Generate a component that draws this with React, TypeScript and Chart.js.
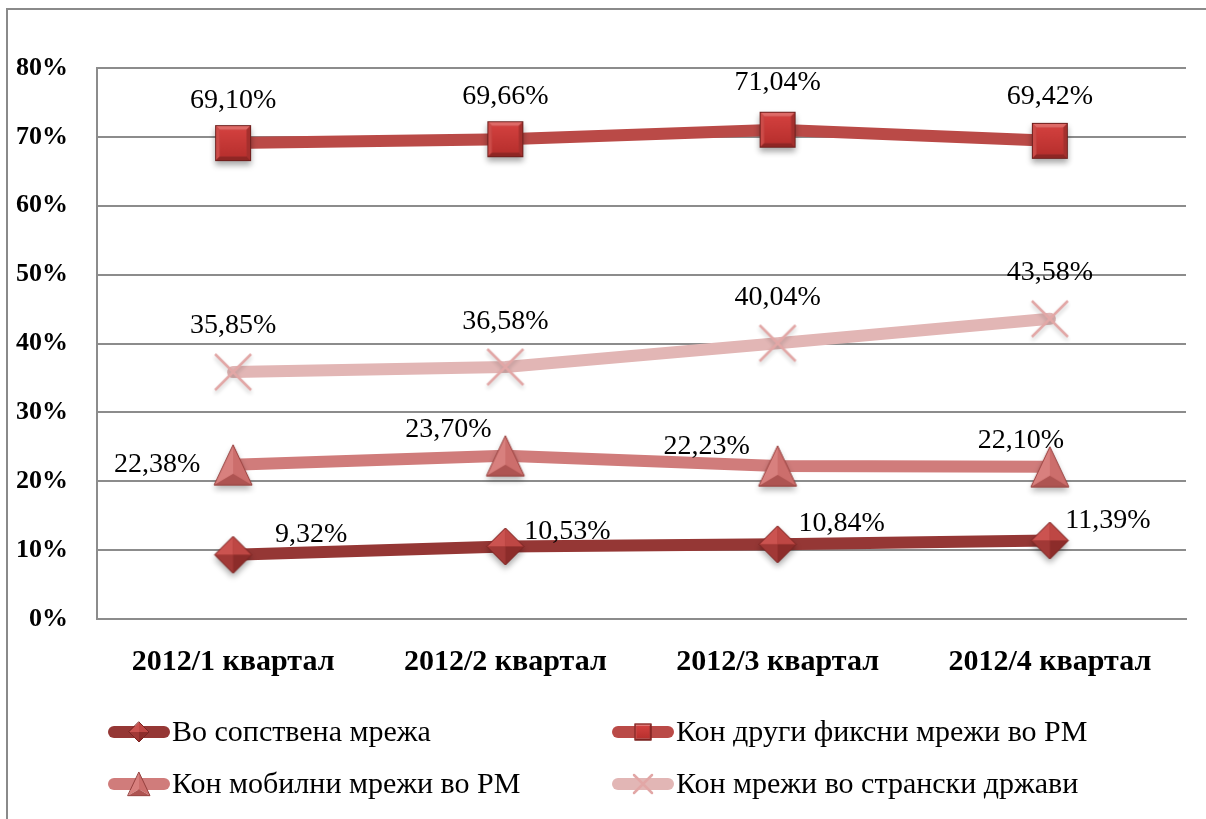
import React, { useEffect, useRef } from 'react';
import { Chart, registerables } from 'chart.js';
Chart.register(...registerables);

const categories = ['2012/1 квартал', '2012/2 квартал', '2012/3 квартал', '2012/4 квартал'];
const seriesNames = [
  'Во сопствена мрежа',
  'Кон други фиксни мрежи во РМ',
  'Кон мобилни мрежи во РМ',
  'Кон мрежи во странски држави',
];
const ownNetwork = [9.32, 10.53, 10.84, 11.39];
const otherFixed = [69.1, 69.66, 71.04, 69.42];
const mobileNet = [22.38, 23.7, 22.23, 22.1];
const foreignNet = [35.85, 36.58, 40.04, 43.58];
const yMin = 0;
const yMax = 80;
const yStep = 10;

const FONT = '"Liberation Serif", "DejaVu Serif", serif';

type Kind = 'diamond' | 'square' | 'triangle' | 'cross';

function drawMarker(ctx: CanvasRenderingContext2D, kind: Kind, cx: number, cy: number, s: number, shadow = true) {
  ctx.save();
  if (kind === 'square') {
    const h = s / 2;
    if (shadow) {
      ctx.save();
      ctx.shadowColor = 'rgba(0,0,0,0.35)';
      ctx.shadowBlur = 6;
      ctx.shadowOffsetY = 4;
      ctx.fillStyle = '#B9393A';
      ctx.fillRect(cx - h, cy - h, s, s);
      ctx.restore();
    }
    const b = s * 0.13;
    const poly = (pts: number[][], c: string) => {
      ctx.beginPath();
      ctx.moveTo(pts[0][0], pts[0][1]);
      for (let i = 1; i < pts.length; i++) ctx.lineTo(pts[i][0], pts[i][1]);
      ctx.closePath();
      ctx.fillStyle = c;
      ctx.fill();
    };
    const L = cx - h, R = cx + h, T = cy - h, B = cy + h;
    poly([[L, T], [R, T], [R - b, T + b], [L + b, T + b]], '#DE6A67');
    poly([[L, T], [L + b, T + b], [L + b, B - b], [L, B]], '#CC4B48');
    poly([[R, T], [R, B], [R - b, B - b], [R - b, T + b]], '#A52F2D');
    poly([[L, B], [L + b, B - b], [R - b, B - b], [R, B]], '#8E2624');
    const g = ctx.createLinearGradient(cx, T + b, cx, B - b);
    g.addColorStop(0, '#D2403E');
    g.addColorStop(1, '#B8302E');
    ctx.fillStyle = g;
    ctx.fillRect(L + b, T + b, s - 2 * b, s - 2 * b);
    ctx.strokeStyle = '#6E1F1D';
    ctx.lineWidth = 1;
    ctx.strokeRect(L + 0.5, T + 0.5, s - 1, s - 1);
  } else if (kind === 'diamond') {
    const h = s / 2;
    if (shadow) {
      ctx.save();
      ctx.shadowColor = 'rgba(0,0,0,0.35)';
      ctx.shadowBlur = 6;
      ctx.shadowOffsetY = 4;
      ctx.beginPath();
      ctx.moveTo(cx, cy - h); ctx.lineTo(cx + h, cy); ctx.lineTo(cx, cy + h); ctx.lineTo(cx - h, cy); ctx.closePath();
      ctx.fillStyle = '#A83A37';
      ctx.fill();
      ctx.restore();
    }
    const tri = (a: number[], b: number[], c: string) => {
      ctx.beginPath();
      ctx.moveTo(cx, cy); ctx.lineTo(a[0], a[1]); ctx.lineTo(b[0], b[1]); ctx.closePath();
      ctx.fillStyle = c; ctx.fill();
    };
    const top = [cx, cy - h], right = [cx + h, cy], bot = [cx, cy + h], left = [cx - h, cy];
    tri(left, top, '#CB5350');
    tri(top, right, '#BE4744');
    tri(left, bot, '#A13836');
    tri(bot, right, '#8C2C2A');
    ctx.beginPath();
    ctx.moveTo(cx, cy - h); ctx.lineTo(cx + h, cy); ctx.lineTo(cx, cy + h); ctx.lineTo(cx - h, cy); ctx.closePath();
    ctx.strokeStyle = '#7A2422';
    ctx.lineWidth = 1;
    ctx.stroke();
  } else if (kind === 'triangle') {
    const hw = s / 2;
    const hh = s * 0.53;
    const top = [cx, cy - hh], bl = [cx - hw, cy + hh], br = [cx + hw, cy + hh];
    const inner = [cx, cy + hh * 0.45];
    if (shadow) {
      ctx.save();
      ctx.shadowColor = 'rgba(0,0,0,0.3)';
      ctx.shadowBlur = 6;
      ctx.shadowOffsetY = 4;
      ctx.beginPath();
      ctx.moveTo(top[0], top[1]); ctx.lineTo(br[0], br[1]); ctx.lineTo(bl[0], bl[1]); ctx.closePath();
      ctx.fillStyle = '#C96866';
      ctx.fill();
      ctx.restore();
    }
    const tri = (a: number[], b: number[], c: string) => {
      ctx.beginPath();
      ctx.moveTo(inner[0], inner[1]); ctx.lineTo(a[0], a[1]); ctx.lineTo(b[0], b[1]); ctx.closePath();
      ctx.fillStyle = c; ctx.fill();
    };
    tri(top, bl, '#D8807E');
    tri(top, br, '#CC6E6C');
    tri(bl, br, '#AE5452');
    ctx.beginPath();
    ctx.moveTo(top[0], top[1]); ctx.lineTo(br[0], br[1]); ctx.lineTo(bl[0], bl[1]); ctx.closePath();
    ctx.strokeStyle = '#95403E';
    ctx.lineWidth = 1;
    ctx.stroke();
  } else {
    const h = s / 2;
    ctx.save();
    if (shadow) {
      ctx.shadowColor = 'rgba(0,0,0,0.2)';
      ctx.shadowBlur = 4;
      ctx.shadowOffsetY = 3;
    }
    ctx.strokeStyle = '#E2A7A6';
    ctx.lineWidth = 2.5;
    ctx.beginPath();
    ctx.moveTo(cx - h, cy - h); ctx.lineTo(cx + h, cy + h);
    ctx.moveTo(cx + h, cy - h); ctx.lineTo(cx - h, cy + h);
    ctx.stroke();
    ctx.restore();
  }
  ctx.restore();
}

function makeMarker(kind: Kind, s: number): HTMLCanvasElement {
  const pad = 14;
  const c = document.createElement('canvas');
  c.width = Math.ceil(s + pad * 2);
  c.height = Math.ceil(s + pad * 2);
  const ctx = c.getContext('2d')!;
  drawMarker(ctx, kind, c.width / 2, c.height / 2, s);
  return c;
}

const kinds: Kind[] = ['diamond', 'square', 'triangle', 'cross'];
const lineColors = ['#953735', '#BA4A47', '#D07C7B', '#E2B6B5'];
const markerSizes = [37, 36, 38, 36];
const legendMarkerSizes = [20, 17, 22, 18];

// label offsets (dx, dy) relative to each point, in px
const labelOffsets: number[][][] = [
  [[78, -20], [62, -15], [64, -21], [58, -20]],
  [[0, -42], [0, -43], [0, -47], [0, -44]],
  [[-76, 0], [-57, -26], [-71, -19], [-29, -26]],
  [[0, -46], [0, -45], [0, -46], [0, -46]],
];

const dataLabelPlugin = {
  id: 'dataLabels',
  afterDatasetsDraw(chart: any) {
    const ctx = chart.ctx as CanvasRenderingContext2D;
    ctx.save();
    ctx.font = `28px ${FONT}`;
    ctx.fillStyle = '#000';
    ctx.textAlign = 'center';
    ctx.textBaseline = 'middle';
    chart.data.datasets.forEach((ds: any, di: number) => {
      const meta = chart.getDatasetMeta(di);
      meta.data.forEach((pt: any, i: number) => {
        const v = ds.data[i] as number;
        const txt = v.toFixed(2).replace('.', ',') + '%';
        const off = labelOffsets[di][i];
        ctx.fillText(txt, pt.x + off[0], pt.y + off[1]);
      });
    });
    ctx.restore();
  },
};

const legendPlugin = {
  id: 'gridLegend',
  afterDraw(chart: any) {
    const ctx = chart.ctx as CanvasRenderingContext2D;
    const colX = [108, 612];
    const rowY = [732, 784];
    const lineLen = 62;
    ctx.save();
    chart.data.datasets.forEach((ds: any, di: number) => {
      const x = colX[di % 2];
      const y = rowY[Math.floor(di / 2)];
      ctx.strokeStyle = lineColors[di];
      ctx.lineWidth = 12;
      ctx.lineCap = 'round';
      ctx.beginPath();
      ctx.moveTo(x + 6, y);
      ctx.lineTo(x + lineLen - 6, y);
      ctx.stroke();
      drawMarker(ctx, kinds[di], x + lineLen / 2, y, legendMarkerSizes[di], false);
      ctx.font = `30px ${FONT}`;
      ctx.fillStyle = '#000';
      ctx.textAlign = 'left';
      ctx.textBaseline = 'middle';
      ctx.fillText(ds.label, x + lineLen + 2, y + 1);
    });
    ctx.restore();
  },
};

const framePlugin = {
  id: 'frame',
  beforeDraw(chart: any) {
    const ctx = chart.ctx as CanvasRenderingContext2D;
    ctx.save();
    ctx.fillStyle = '#fff';
    ctx.fillRect(0, 0, chart.width, chart.height);
    ctx.strokeStyle = '#8a8a8a';
    ctx.lineWidth = 2;
    ctx.strokeRect(7, 9, chart.width + 10, chart.height + 10);
    ctx.restore();
  },
};

export default function App() {
  const ref = useRef<HTMLCanvasElement | null>(null);
  useEffect(() => {
    document.body.style.margin = '0';
    const canvas = ref.current!;
    const seriesData = [ownNetwork, otherFixed, mobileNet, foreignNet];
    const chart = new Chart(canvas, {
      type: 'line',
      data: {
        labels: categories,
        datasets: seriesData.map((d, i) => ({
          label: seriesNames[i],
          data: d,
          borderColor: lineColors[i],
          backgroundColor: lineColors[i],
          borderWidth: 12,
          borderCapStyle: 'round' as const,
          borderJoinStyle: 'round' as const,
          pointStyle: makeMarker(kinds[i], markerSizes[i]) as any,
          pointRadius: 18,
          pointHoverRadius: 18,
          tension: 0,
          fill: false,
          clip: false as any,
        })),
      },
      options: {
        responsive: false,
        animation: false,
        events: [],
        layout: { autoPadding: false, padding: { top: 68, right: 20, bottom: 130, left: 0 } },
        plugins: {
          legend: { display: false },
          tooltip: { enabled: false },
          title: { display: false },
        },
        scales: {
          x: {
            offset: true,
            grid: { display: false, drawTicks: false },
            border: { display: true, color: '#8c8c8c', width: 2 },
            ticks: {
              color: '#000',
              padding: 25,
              font: { family: FONT, size: 30, weight: 'bold' },
              maxRotation: 0,
            },
            afterFit: (scale: any) => {
              scale.height = 70;
              scale.paddingLeft = 0;
              scale.paddingRight = 0;
            },
          },
          y: {
            min: yMin,
            max: yMax,
            ticks: {
              stepSize: yStep,
              color: '#000',
              padding: 29,
              font: { family: FONT, size: 26, weight: 'bold' },
              callback: (v: any) => `${v}%`,
            },
            grid: { color: '#8c8c8c', lineWidth: 2, drawTicks: false },
            border: { display: true, color: '#8c8c8c', width: 2 },
            afterFit: (scale: any) => {
              scale.width = 97;
            },
          },
        },
      },
      plugins: [framePlugin, dataLabelPlugin, legendPlugin],
    });
    return () => chart.destroy();
  }, []);
  return (
    <div style={{ width: 1206, height: 819 }}>
      <canvas ref={ref} width={1206} height={819} />
    </div>
  );
}
